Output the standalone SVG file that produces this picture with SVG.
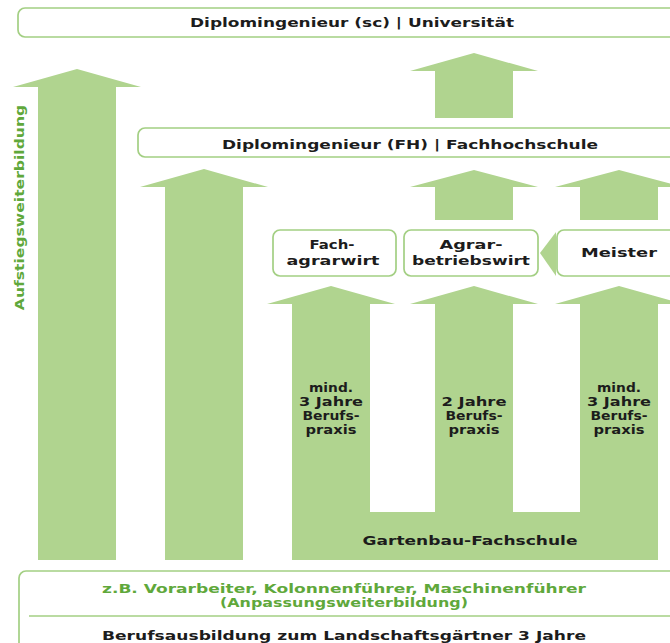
<svg xmlns="http://www.w3.org/2000/svg" width="670" height="643" viewBox="0 0 670 643">
<style>
.box{fill:#fff;stroke:#a3cf83;stroke-width:1.7}
.arr{fill:#b0d48f}
.t{font-family:"DejaVu Sans","Liberation Sans",sans-serif;font-weight:bold;fill:#1c1c1c;text-anchor:middle}
.g{fill:#5fa83b}
.s13{font-size:13px}
.s12{font-size:12.5px}
.s11{font-size:11.5px}
</style>
<rect width="670" height="643" fill="#fff"/>
<g id="connectors">
  <polygon class="arr" points="77,69 141,87 116,87 116,560 38,560 38,87 13,87"/>
  <polygon class="arr" points="204,169 268,187 243,187 243,560 165,560 165,187 140,187"/>
  <polygon class="arr" points="474,53 538,71 513,71 513,118 435,118 435,71 410,71"/>
  <polygon class="arr" points="474,170 538,187 513,187 513,220 435,220 435,187 410,187"/>
  <polygon class="arr" points="619,170 683,187 658,187 658,220 580,220 580,187 555,187"/>
  <polygon class="arr" points="331,286 395,304 370,304 370,512 435,512 435,304 410,304 474,286 538,304 513,304 513,512 580,512 580,304 555,304 619,286 683,304 658,304 658,560 292,560 292,304 267,304"/>
  <polygon class="arr" points="556,232 540,253 556,276"/>
</g>
<g id="label-aufstieg">
  <text class="t g s13" style="text-anchor:middle" transform="translate(24,207.5) rotate(-90) scale(1.2,1)" x="0" y="0">Aufstiegsweiterbildung</text>
</g>
<g id="node-uni">
  <rect class="box" x="18" y="8" width="700" height="29" rx="7"/>
  <text class="t s13" x="352" y="27" textLength="324" lengthAdjust="spacingAndGlyphs">Diplomingenieur (sc) | Universität</text>
</g>
<g id="node-fh">
  <rect class="box" x="138" y="128" width="600" height="29" rx="7"/>
  <text class="t s13" x="410" y="148.5" textLength="376" lengthAdjust="spacingAndGlyphs">Diplomingenieur (FH) | Fachhochschule</text>
</g>
<g id="node-fachagrarwirt">
  <rect class="box" x="273" y="230" width="123" height="46" rx="7"/>
  <text class="t s12" x="332" y="249" textLength="45" lengthAdjust="spacingAndGlyphs">Fach-</text>
  <text class="t s12" x="333" y="265" textLength="93" lengthAdjust="spacingAndGlyphs">agrarwirt</text>
</g>
<g id="node-agrarbetriebswirt">
  <rect class="box" x="404" y="230" width="134" height="46" rx="7"/>
  <text class="t s12" x="471" y="249" textLength="63" lengthAdjust="spacingAndGlyphs">Agrar-</text>
  <text class="t s12" x="471" y="265" textLength="118" lengthAdjust="spacingAndGlyphs">betriebswirt</text>
</g>
<g id="node-meister">
  <rect class="box" x="557" y="230" width="200" height="46" rx="7"/>
  <text class="t s12" x="619" y="257" textLength="76" lengthAdjust="spacingAndGlyphs">Meister</text>
</g>
<g id="label-praxis-1">
  <text class="t s11" x="331" y="392" textLength="44" lengthAdjust="spacingAndGlyphs">mind.</text>
  <text class="t s11" x="331" y="406" textLength="64" lengthAdjust="spacingAndGlyphs">3 Jahre</text>
  <text class="t s11" x="331" y="420" textLength="57" lengthAdjust="spacingAndGlyphs">Berufs-</text>
  <text class="t s11" x="331" y="434" textLength="51" lengthAdjust="spacingAndGlyphs">praxis</text>
</g>
<g id="label-praxis-2">
  <text class="t s11" x="474" y="406" textLength="65" lengthAdjust="spacingAndGlyphs">2 Jahre</text>
  <text class="t s11" x="474" y="420" textLength="57" lengthAdjust="spacingAndGlyphs">Berufs-</text>
  <text class="t s11" x="474" y="434" textLength="51" lengthAdjust="spacingAndGlyphs">praxis</text>
</g>
<g id="label-praxis-3">
  <text class="t s11" x="619" y="392" textLength="44" lengthAdjust="spacingAndGlyphs">mind.</text>
  <text class="t s11" x="619" y="406" textLength="64" lengthAdjust="spacingAndGlyphs">3 Jahre</text>
  <text class="t s11" x="619" y="420" textLength="57" lengthAdjust="spacingAndGlyphs">Berufs-</text>
  <text class="t s11" x="619" y="434" textLength="51" lengthAdjust="spacingAndGlyphs">praxis</text>
</g>
<g id="node-gartenbau">
  <text class="t s12" x="470" y="545" textLength="215" lengthAdjust="spacingAndGlyphs">Gartenbau-Fachschule</text>
</g>
<g id="node-berufsausbildung">
  <rect class="box" x="19" y="571" width="700" height="100" rx="7"/>
  <line x1="29" y1="616" x2="700" y2="616" stroke="#a3cf83" stroke-width="1.6"/>
  <text class="t g s11" x="344" y="592.5" textLength="484" lengthAdjust="spacingAndGlyphs">z.B. Vorarbeiter, Kolonnenführer, Maschinenführer</text>
  <text class="t g s11" x="344" y="606.5" textLength="248" lengthAdjust="spacingAndGlyphs">(Anpassungsweiterbildung)</text>
  <text class="t s12" x="344" y="639.5" textLength="484" lengthAdjust="spacingAndGlyphs">Berufsausbildung zum Landschaftsgärtner 3 Jahre</text>
</g>
</svg>
